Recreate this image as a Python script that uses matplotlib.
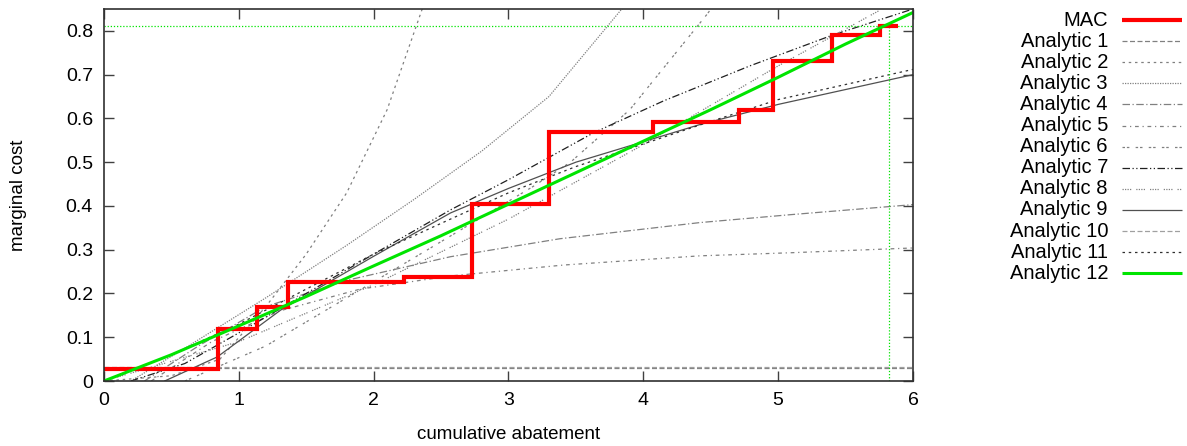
import matplotlib
matplotlib.use("Agg")
import matplotlib.pyplot as plt
from matplotlib.lines import Line2D

plt.rcParams['font.family'] = ['Liberation Sans', 'DejaVu Sans']

# ---------------- data ----------------
# MAC step curve (segment left edges + final right edge) and levels
mac_edges = [0, 0.843, 1.137, 1.364, 2.226, 2.728, 3.303, 4.068, 4.71, 4.96, 5.398, 5.752, 5.89]
mac_levels = [0.028, 0.119, 0.169, 0.226, 0.237, 0.405, 0.569, 0.592, 0.62, 0.731, 0.79, 0.812]

total_abatement = 5.82
total_cost = 0.812

a1_x = [0, 6];  a1_y = [0.029, 0.029]
a2_x = [0.0, 0.5, 0.86, 1.2, 1.5, 1.8, 2.1, 2.36, 2.45]
a2_y = [0.0, 0.012, 0.05, 0.17, 0.29, 0.43, 0.62, 0.85, 0.93]
a3_x = [0.2, 0.6, 1.2, 1.8, 2.3, 2.8, 3.3, 3.84, 3.95]
a3_y = [0.0, 0.075, 0.19, 0.31, 0.415, 0.525, 0.65, 0.85, 0.89]
a4_x = [0.3, 0.7, 1.2, 1.8, 2.57, 3.38, 4.42, 5.09, 6.0]
a4_y = [0.0, 0.08, 0.17, 0.23, 0.284, 0.325, 0.362, 0.38, 0.403]
a5_x = [0.35, 0.8, 1.3, 1.9, 2.57, 3.41, 4.42, 5.09, 6.0]
a5_y = [0.0, 0.09, 0.16, 0.21, 0.24, 0.265, 0.286, 0.293, 0.304]
a6_x = [0.6, 1.2, 1.8, 2.4, 3.18, 3.46, 3.9, 4.47, 4.55]
a6_y = [0.0, 0.08, 0.19, 0.3, 0.444, 0.5, 0.62, 0.837, 0.87]
a7_x = [0.2, 0.6, 1.0, 1.5, 2.0, 2.57, 3.0, 3.63, 4.15, 4.79, 5.4, 6.0]
a7_y = [0.0, 0.04, 0.11, 0.2, 0.29, 0.391, 0.46, 0.567, 0.64, 0.72, 0.79, 0.85]
a8_x = [0, 1, 2, 3, 4, 5, 5.83, 6]
a8_y = [0.0, 0.09, 0.22, 0.37, 0.54, 0.72, 0.86, 0.89]
a9_x = [0.45, 0.84, 1.31, 2.0, 2.57, 3.0, 3.5, 4.42, 5.0, 6.0]
a9_y = [0.0, 0.055, 0.162, 0.285, 0.384, 0.44, 0.5, 0.586, 0.632, 0.70]
a10_x = [0, 6]; a10_y = [0.031, 0.031]
a11_x = [0, 0.5, 1, 1.5, 2, 2.57, 3, 3.5, 4.42, 5, 6]
a11_y = [0.0, 0.06, 0.13, 0.21, 0.29, 0.37, 0.43, 0.49, 0.585, 0.643, 0.712]
a12_x = [0, 0.5, 1, 1.5, 2, 2.5, 3, 3.5, 4, 4.5, 5, 5.5, 6]
a12_y = [0.0, 0.06, 0.126, 0.193, 0.263, 0.332, 0.404, 0.476, 0.548, 0.62, 0.694, 0.77, 0.842]

series_labels = ["MAC"] + ["Analytic %d" % i for i in range(1, 13)]
x_ticks = [0, 1, 2, 3, 4, 5, 6]
y_ticks = [0, 0.1, 0.2, 0.3, 0.4, 0.5, 0.6, 0.7, 0.8]
y_tick_labels = ["0", "0.1", "0.2", "0.3", "0.4", "0.5", "0.6", "0.7", "0.8"]

# ---------------- styles ----------------
GREEN = '#00e400'
styles = [
    dict(color='red', lw=3.0, ls='-'),
    dict(color='#808080', lw=0.9, ls=(0, (4, 2))),
    dict(color='#808080', lw=0.9, ls=(0, (2, 3))),
    dict(color='#808080', lw=0.9, ls=(0, (1, 1))),
    dict(color='#808080', lw=0.9, ls=(0, (6, 2, 1, 2))),
    dict(color='#808080', lw=0.9, ls=(0, (3, 3, 1, 3))),
    dict(color='#808080', lw=0.9, ls=(0, (2, 1.5, 2, 5))),
    dict(color='#202020', lw=0.9, ls=(0, (6, 2, 1, 2, 1, 2))),
    dict(color='#808080', lw=0.9, ls=(0, (1, 1, 1, 1, 1, 1, 1, 4))),
    dict(color='#505050', lw=0.9, ls='-'),
    dict(color='#a0a0a0', lw=0.9, ls=(0, (4, 2))),
    dict(color='#303030', lw=0.9, ls=(0, (2, 3))),
    dict(color=GREEN, lw=2.2, ls='-'),
]

W, H = 1187, 446
fig = plt.figure(figsize=(W / 100, H / 100), dpi=100)
ax_l, ax_r, ax_b, ax_t = 104, 913, 381, 9
ax = fig.add_axes([ax_l / W, 1 - ax_b / H, (ax_r - ax_l) / W, (ax_b - ax_t) / H])

curves = [(a1_x, a1_y), (a2_x, a2_y), (a3_x, a3_y), (a4_x, a4_y), (a5_x, a5_y),
          (a6_x, a6_y), (a7_x, a7_y), (a8_x, a8_y), (a9_x, a9_y), (a10_x, a10_y),
          (a11_x, a11_y)]
for (cx, cy), st in zip(curves, styles[1:12]):
    ax.plot(cx, cy, **st)

# reference lines
ax.axhline(total_cost, color=GREEN, lw=0.9, ls=(0, (1, 1.5)))
ax.plot([total_abatement, total_abatement], [0, total_cost], color=GREEN, lw=0.9, ls=(0, (1, 1.5)))

ax.step(mac_edges, mac_levels + [mac_levels[-1]], where='post', solid_capstyle='butt',
        solid_joinstyle='miter', **styles[0])
ax.plot(a12_x, a12_y, **styles[12])

ax.set_xlim(0, 6)
ax.set_ylim(0, 0.85)
ax.set_xticks(x_ticks)
ax.set_yticks(y_ticks)
ax.set_yticklabels(y_tick_labels)
ax.tick_params(direction='in', length=7, width=1, top=True, right=True,
               labelsize=14, pad=8, color='#404040')
for s in ax.spines.values():
    s.set_color('#303030')
    s.set_linewidth(1.2)
ax.set_xlabel("cumulative abatement", fontsize=13.5, labelpad=12)
ax.set_ylabel("marginal cost", fontsize=13.5, labelpad=28)

# legend (gnuplot style: right-aligned text, sample to the right)
y0, dy = 20, 21.1
for i, (lab, st) in enumerate(zip(series_labels, styles)):
    yy = 1 - (y0 + i * dy) / H
    fig.text(1108 / W, yy, lab, ha='right', va='center', fontsize=14.5)
    fig.add_artist(Line2D([1122 / W, 1182 / W], [yy, yy], transform=fig.transFigure,
                          solid_capstyle='butt', **st))

fig.savefig("out.png", dpi=100)
